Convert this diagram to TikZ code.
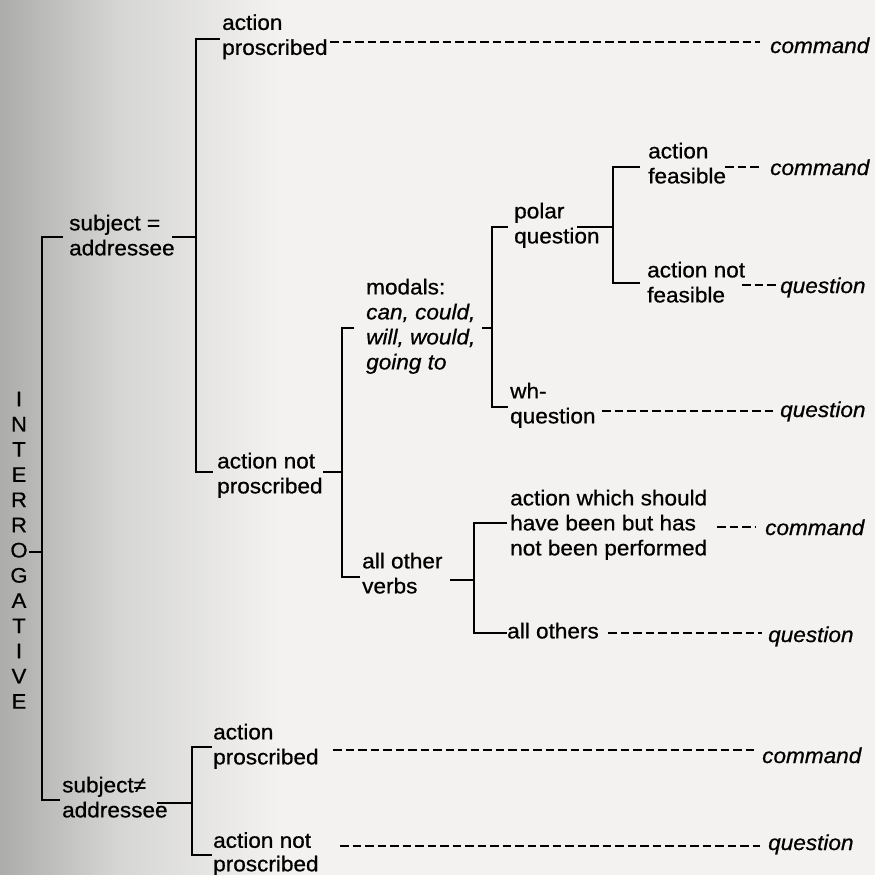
\documentclass[tikz,border=0pt]{standalone}
\usepackage{fontspec}
\setmainfont{Liberation Sans}[FakeStretch=1.05, FakeBold=0.7]
\definecolor{paper}{RGB}{243,242,240}
\definecolor{paperA}{RGB}{172,172,170}
\definecolor{paperB}{RGB}{214,214,212}
\tikzset{
  lbl/.style={anchor=north west, inner sep=0pt, align=left, font=\fontsize{21.5}{25}\selectfont},
  res/.style={anchor=base west, inner sep=0pt, font=\fontsize{21.5}{25}\selectfont\itshape},
  letter/.style={anchor=center, inner sep=0pt, font=\fontsize{21}{25}\selectfont},
  brk/.style={line width=2.8pt, line join=miter},
  dsh/.style={line width=2.5pt, dash pattern=on 8.5pt off 4pt},
}
\begin{document}
\begin{tikzpicture}[x=1pt,y=-1pt]
\useasboundingbox (0,0) rectangle (875,875);
% paper
\fill[paper] (0,0) rectangle (875,875);
\shade[left color=paperA, right color=paperB, draw=none] (0,0) rectangle (120,875);
\shade[left color=paperB, right color=paper, draw=none] (120,0) rectangle (280,875);

% vertical title
\foreach \ch [count=\k from 0] in {I,N,T,E,R,R,O,G,A,T,I,V,E}
  \node[letter] (L\k) at (19,{399+25.2*\k}) {\ch};

% labels
\node[lbl] (n1) at (222,14.1) {action\\proscribed};
\node[lbl] (n2) at (69,214.6) {subject =\\addressee};
\node[lbl] (n3) at (217,452.6) {action not\\proscribed};
\node[lbl] (n4) at (366,278.6) {modals:\\\textit{can, could,}\\\textit{will, would,}\\\textit{going to}};
\node[lbl] (n5) at (514,202.6) {polar\\question};
\node[lbl] (n6) at (648,142.6) {action\\feasible};
\node[lbl] (n7) at (647,261.6) {action not\\feasible};
\node[lbl] (n8) at (510,382.6) {wh-\\question};
\node[lbl] (n9) at (362,552.6) {all other\\verbs};
\node[lbl] (n10) at (510,489.6) {action which should\\have been but has\\not been performed};
\node[lbl] (n11) at (507,622.6) {all others};
\node[lbl] (n12) at (62,776.6) {subject≠\\addressee};
\node[lbl] (n13) at (213,723.6) {action\\proscribed};
\node[lbl, font=\fontsize{21.5}{23.5}\selectfont] (n14) at (213,832) {action not\\proscribed};

% results
\node[res] (c1) at (770,53) {command};
\node[res] (c2) at (770,175) {command};
\node[res] (q1) at (780,293) {question};
\node[res] (q2) at (780,417) {question};
\node[res] (c3) at (765,535) {command};
\node[res] (q3) at (768,642) {question};
\node[res] (c4) at (762,763) {command};
\node[res] (q4) at (768,850) {question};

% junction coordinates
\coordinate (rt) at (42,237);  \coordinate (rb) at (42,800);
\coordinate (rti) at (63,237); \coordinate (rbi) at (60,800);
\coordinate (ro) at (29,552);  \coordinate (roj) at (42,552);
\coordinate (s1o) at (172,237); \coordinate (s1j) at (196,237);
\coordinate (At) at (196,39);  \coordinate (Ab) at (196,472);
\coordinate (Ati) at (220,39); \coordinate (Abi) at (213,472);
\coordinate (n3o) at (323,472); \coordinate (n3j) at (342,472);
\coordinate (Bt) at (342,328); \coordinate (Bb) at (342,577);
\coordinate (Bti) at (354,328); \coordinate (Bbi) at (360,577);
\coordinate (n4o) at (482,328); \coordinate (n4j) at (492,328);
\coordinate (Ct) at (492,227); \coordinate (Cb) at (492,407);
\coordinate (Cti) at (508,227); \coordinate (Cbi) at (508,407);
\coordinate (n5o) at (577,227); \coordinate (n5j) at (613,227);
\coordinate (Dt) at (613,167); \coordinate (Db) at (613,283);
\coordinate (Dti) at (640,167); \coordinate (Dbi) at (640,283);
\coordinate (n9o) at (450,580); \coordinate (n9j) at (474,580);
\coordinate (Et) at (474,523); \coordinate (Eb) at (474,633);
\coordinate (Eti) at (507,523); \coordinate (Ebi) at (507,633);
\coordinate (n12o) at (157,803); \coordinate (n12j) at (192,803);
\coordinate (Ft) at (192,747); \coordinate (Fb) at (192,855);
\coordinate (Fti) at (212,747); \coordinate (Fbi) at (212,855);

% brackets
\draw[brk] (rti) -- (rt) -- (rb) -- (rbi);
\draw[brk] (ro) -- (roj);
\draw[brk] (s1o) -- (s1j);
\draw[brk] (Ati) -- (At) -- (Ab) -- (Abi);
\draw[brk] (n3o) -- (n3j);
\draw[brk] (Bti) -- (Bt) -- (Bb) -- (Bbi);
\draw[brk] (n4o) -- (n4j);
\draw[brk] (Cti) -- (Ct) -- (Cb) -- (Cbi);
\draw[brk] (n5o) -- (n5j);
\draw[brk] (Dti) -- (Dt) -- (Db) -- (Dbi);
\draw[brk] (n9o) -- (n9j);
\draw[brk] (Eti) -- (Et) -- (Eb) -- (Ebi);
\draw[brk] (n12o) -- (n12j);
\draw[brk] (Fti) -- (Ft) -- (Fb) -- (Fbi);

% dashed leaders
\coordinate (d1a) at (330,42);  \coordinate (d1b) at (760,42);
\coordinate (d2a) at (725,167); \coordinate (d2b) at (762,167);
\coordinate (d3a) at (742,285); \coordinate (d3b) at (777,285);
\coordinate (d4a) at (602,411); \coordinate (d4b) at (773,411);
\coordinate (d5a) at (717,527); \coordinate (d5b) at (755,527);
\coordinate (d6a) at (608,633); \coordinate (d6b) at (762,633);
\coordinate (d7a) at (333,750); \coordinate (d7b) at (755,750);
\coordinate (d8a) at (340,846); \coordinate (d8b) at (760,846);
\draw[dsh] (d1a) -- (d1b);
\draw[dsh] (d2a) -- (d2b);
\draw[dsh] (d3a) -- (d3b);
\draw[dsh] (d4a) -- (d4b);
\draw[dsh] (d5a) -- (d5b);
\draw[dsh] (d6a) -- (d6b);
\draw[dsh] (d7a) -- (d7b);
\draw[dsh] (d8a) -- (d8b);
\end{tikzpicture}
\end{document}
